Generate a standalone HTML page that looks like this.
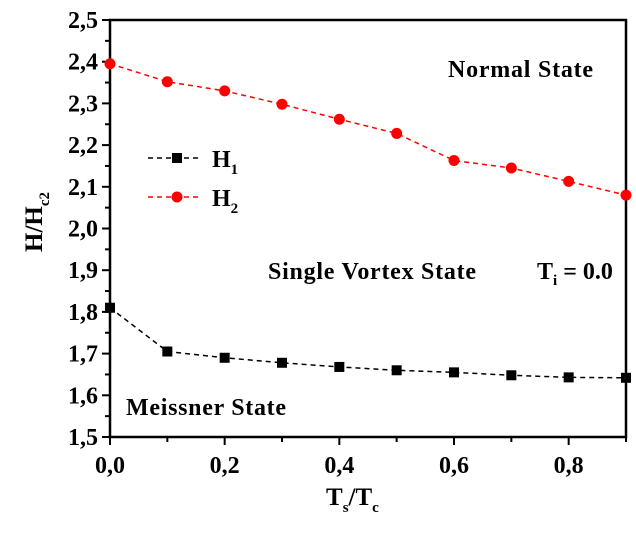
<!DOCTYPE html>
<html><head><meta charset="utf-8"><style>
body{margin:0;background:#fff}
svg text{font-family:"Liberation Serif",serif;font-weight:bold}
</style></head><body>
<svg width="636" height="529" xmlns="http://www.w3.org/2000/svg">
<g id="axes"></g><g id="series"></g>
<g>
<line x1="148" y1="158" x2="200" y2="158" stroke="#000" stroke-width="1.5" stroke-dasharray="5,4"/>
<rect x="172" y="153" width="10" height="10" fill="#000"/>
<text x="212" y="167" font-size="24">H<tspan font-size="15" dy="7">1</tspan></text>
<line x1="148" y1="197" x2="200" y2="197" stroke="#f00" stroke-width="1.5" stroke-dasharray="5,4"/>
<circle cx="177" cy="197" r="5.5" fill="#f00"/>
<text x="212" y="206" font-size="24">H<tspan font-size="15" dy="7">2</tspan></text>
</g>
<text x="448" y="77" font-size="24" textLength="145">Normal State</text>
<text x="268" y="279" font-size="24" textLength="208">Single Vortex State</text>
<text x="537" y="279" font-size="24">T<tspan font-size="15" dy="6">i</tspan><tspan dy="-6"> = 0.0</tspan></text>
<text x="126" y="415" font-size="24" textLength="160">Meissner State</text>
<text x="326" y="505" font-size="25">T<tspan font-size="15" dy="7">s</tspan><tspan dy="-7">/T</tspan><tspan font-size="15" dy="7">c</tspan></text>
<text transform="translate(42,252) rotate(-90)" font-size="25">H/H<tspan font-size="15" dy="7">c2</tspan></text>
</svg>
<script>
const xs=[0,0.1,0.2,0.3,0.4,0.5,0.6,0.7,0.8,0.9];
const h1=[1.81,1.705,1.69,1.678,1.668,1.66,1.655,1.648,1.643,1.642];
const h2=[2.395,2.352,2.330,2.298,2.262,2.228,2.163,2.145,2.113,2.080];
const xTicks=[0,0.2,0.4,0.6,0.8];
const xTickLabels=["0,0","0,2","0,4","0,6","0,8"];
const yTicks=[1.5,1.6,1.7,1.8,1.9,2.0,2.1,2.2,2.3,2.4,2.5];
const yTickLabels=["1,5","1,6","1,7","1,8","1,9","2,0","2,1","2,2","2,3","2,4","2,5"];
const L=110,R=626,T=20,B=437;
const X=v=>L+(v/0.9)*(R-L);
const Y=v=>B-(v-1.5)/1.0*(B-T);
const NS="http://www.w3.org/2000/svg";
function mk(tag,attrs,parent){const e=document.createElementNS(NS,tag);for(const k in attrs)e.setAttribute(k,attrs[k]);parent.appendChild(e);return e;}
const ax=document.getElementById('axes');
const frame=mk('rect',{x:L,y:T,width:R-L,height:B-T,fill:'none',stroke:'#000','stroke-width':2.5},ax);


for(let i=0;i<=9;i++){const v=i*0.1;const major=i%2==0;
 const t=mk('line',{x1:X(v),x2:X(v),y1:B,y2:B+(major?8:5),stroke:'#000','stroke-width':2},ax);
 
 }
xTicks.forEach((v,i)=>{const t=mk('text',{x:X(v),y:B+36,'font-size':24,'text-anchor':'middle'},ax);t.textContent=xTickLabels[i];
 
 });
for(let i=0;i<=20;i++){const v=1.5+i*0.05;const major=i%2==0;
 const t=mk('line',{x1:L-(major?8:5),x2:L,y1:Y(v),y2:Y(v),stroke:'#000','stroke-width':2},ax);
 
 }
yTicks.forEach((v,i)=>{const t=mk('text',{x:L-12,y:Y(v)+8,'font-size':24,'text-anchor':'end'},ax);t.textContent=yTickLabels[i];
 
 });
const sg=document.getElementById('series');
function series(vals,color,sq,name){
 const p=mk('polyline',{points:xs.map((x,i)=>X(x)+','+Y(vals[i])).join(' '),fill:'none',stroke:color,'stroke-width':1.5,'stroke-dasharray':'5,4'},sg);
 
 
 xs.forEach((x,i)=>{let m;
  if(sq)m=mk('rect',{x:X(x)-5,y:Y(vals[i])-5,width:10,height:10,fill:color},sg);
  else m=mk('circle',{cx:X(x),cy:Y(vals[i]),r:5.5,fill:color},sg);
  
  });
}
series(h1,'#000',true,'h1');
series(h2,'#f00',false,'h2');
</script>
</body></html>
